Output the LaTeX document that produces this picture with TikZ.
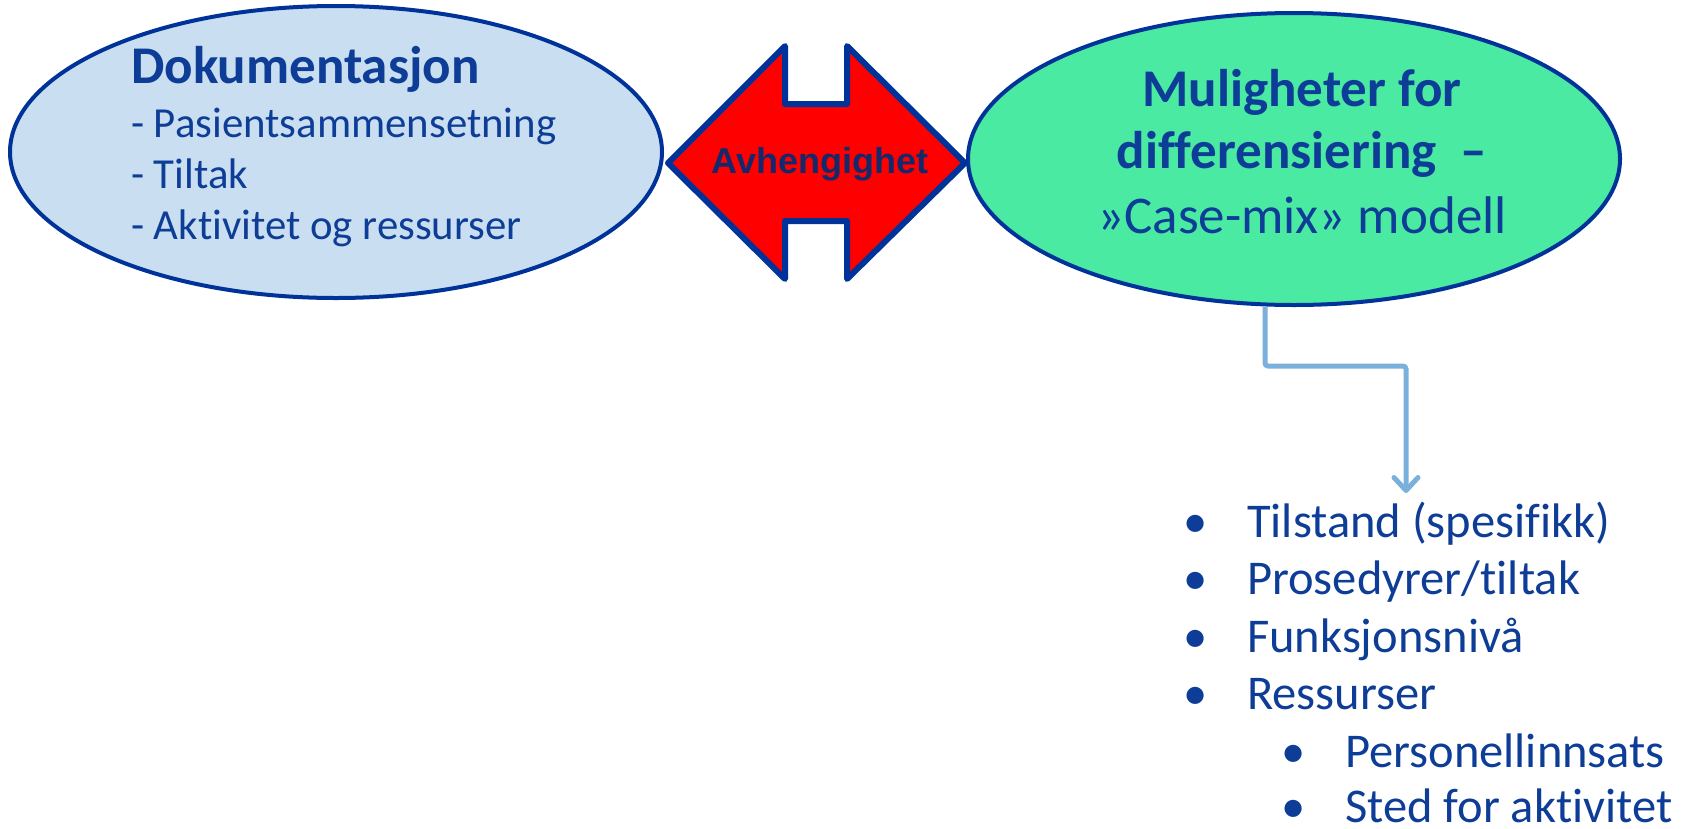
\documentclass[tikz,border=0pt]{standalone}
\usepackage{fontspec}
\setmainfont{Carlito}[Ligatures=NoCommon]
\newfontfamily\arialfont{Liberation Sans}
\usetikzlibrary{shapes.geometric,arrows.meta}
\definecolor{ink}{HTML}{0D3D96}
\definecolor{rim}{HTML}{003399}
\definecolor{navy}{HTML}{13296B}
\definecolor{lysbla}{HTML}{C9DEF0}
\definecolor{gronn}{HTML}{4BEAA2}
\definecolor{pilfarge}{HTML}{7AB0DC}
\tikzstyle{boble}=[ellipse, draw=rim, line width=4pt, minimum width=652pt, minimum height=292pt, inner sep=0pt]
\tikzstyle{tekst}=[anchor=base west, inner sep=0pt, text=ink]
\tikzstyle{midt}=[anchor=base, inner sep=0pt, text=ink]
\tikzstyle{punkt}=[tekst, font=\fontsize{48.5}{58}\selectfont]
\tikzstyle{pil}=[draw=pilfarge, line width=5pt, rounded corners=3pt, -{Straight Barb[length=13pt, width=24pt, round]}]
\newcommand{\tekst}{\node[tekst]}
\newcommand{\punkt}{\node[punkt]}

\begin{document}
\begin{tikzpicture}[x=1pt, y=-1pt]
\useasboundingbox (0,0) rectangle (1681,828);

% ellipsene
\node[boble, fill=lysbla] (dok) at (336,152) {};
\node[boble, fill=gronn] (mul) at (1294,159) {};

% dobbeltpilen
\draw[draw=rim, fill=red, line width=6pt, line join=round]
  (668,163) -- (785,46) -- (785,104) -- (847,104) -- (847,46) -- (965,163)
  -- (847,279) -- (847,221) -- (785,221) -- (785,279) -- cycle;
\node[midt, text=navy, font=\fontsize{36}{43}\arialfont\bfseries] (avh) at (820,173) {Avhengighet};

% venstre tekst
\tekst[font=\fontsize{53}{64}\selectfont\bfseries] (dokhode) at (131,83) {Dokumentasjon};
\tekst[font=\fontsize{42.8}{51}\selectfont] (dok1) at (131,137) {- Pasientsammensetning};
\tekst[font=\fontsize{42.8}{51}\selectfont] (dok2) at (131,188) {- Tiltak};
\tekst[font=\fontsize{42.8}{51}\selectfont] (dok3) at (131,239) {- Aktivitet og ressurser};

% hoyre tekst
\node[midt, font=\fontsize{53}{64}\selectfont\bfseries] (mul1) at (1302,106) {Muligheter for};
\node[midt, font=\fontsize{53}{64}\selectfont\bfseries] (mul2) at (1302,168) {differensiering\ \ –};
\node[midt, font=\fontsize{53}{64}\selectfont] (mul3) at (1302,233) {»Case-mix» modell};

% liste
\punkt (b1) at (1183,537) {•};
\punkt (l1) at (1247,537) {Tilstand (spesifikk)};
\punkt (b2) at (1183,594) {•};
\punkt (l2) at (1247,594) {Prosedyrer/tiltak};
\punkt (b3) at (1183,652) {•};
\punkt (l3) at (1247,652) {Funksjonsnivå};
\punkt (b4) at (1183,709) {•};
\punkt (l4) at (1247,709) {Ressurser};
\punkt (b5) at (1281,767) {•};
\punkt (l5) at (1345,767) {Personellinnsats};
\punkt (b6) at (1281,822) {•};
\punkt (l6) at (1345,822) {Sted for aktivitet};

% kobling
\coordinate (knekk) at (1406,366);
\coordinate (listetopp) at (1406,493);
\draw[pil] ([xshift=-29pt]mul.south) |- (knekk) -- (listetopp);
\end{tikzpicture}
\end{document}
